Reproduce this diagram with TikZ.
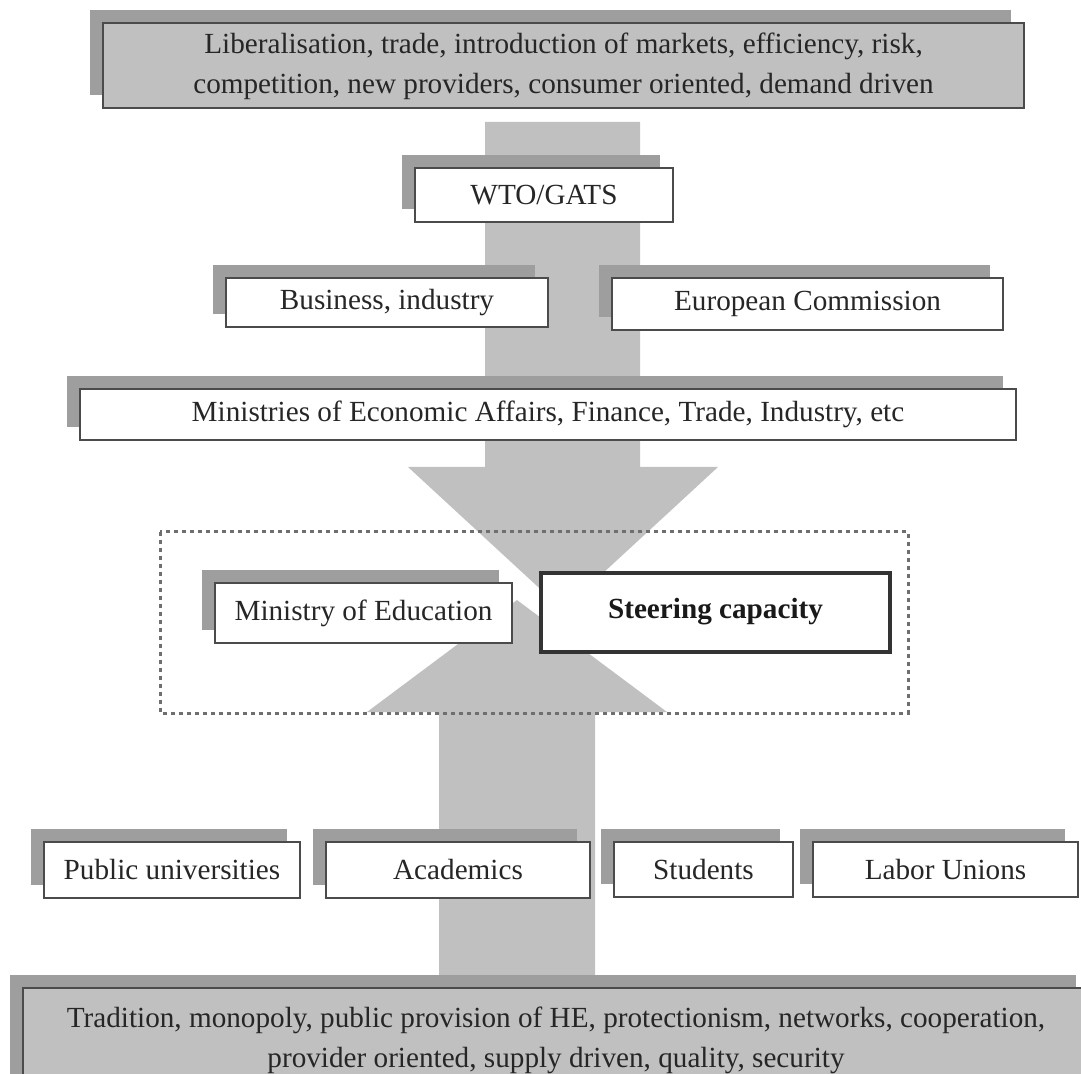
\documentclass[tikz,border=0pt]{standalone}
\usepackage{fontspec}
\setmainfont{Liberation Serif}
\usetikzlibrary{shadows}
\definecolor{boxgray}{RGB}{192,192,192}
\definecolor{shadegray}{RGB}{158,158,158}
\definecolor{edgegray}{RGB}{75,75,75}
\tikzset{
  box/.style={draw=edgegray, line width=1pt, fill=white, align=center, inner sep=0pt,
    text=black!85, font=\fontsize{14.6}{20}\selectfont,
    general shadow={shadow xshift=-6.5pt, shadow yshift=6.5pt, fill=shadegray}},
  greybox/.style={box, fill=boxgray},
  flow/.style={fill=boxgray, draw=none}
}
\begin{document}
\begin{tikzpicture}[x=0.5pt, y=-0.5pt]
\useasboundingbox (0,0) rectangle (1081,1074);
\clip (0,0) rectangle (1081,1074);
% the two big arrows
\fill[flow] (485,122)--(640,122)--(640,467)--(718,467)--(563,610)--(408,467)--(485,467)--cycle;
\fill[flow] (439,975)--(595,975)--(595,712)--(667,712)--(517,600)--(367,712)--(439,712)--cycle;
\draw[edgegray!80, line width=1.5pt, dash pattern=on 2pt off 2pt] (160,532) rectangle (908,713);
% boxes
\node[greybox, minimum width=460.5pt, minimum height=42.5pt] (market) at (563.5,66)
  {Liberalisation, trade, introduction of markets, efficiency, risk,\\ competition, new providers, consumer oriented, demand driven};
\node[box, minimum width=129pt, minimum height=27pt] (wto) at (544,195) {WTO/GATS};
\node[box, minimum width=161pt, minimum height=24.5pt] (business) at (387,302.5) {Business, industry};
\node[box, minimum width=195.5pt, minimum height=26pt] (ec) at (807.5,304) {European Commission};
\node[box, minimum width=468pt, minimum height=25.5pt] (ministries) at (548,414.5)
  {Ministries of Economic Affairs, Finance, Trade, Industry, etc};
\node[box, minimum width=148.5pt, minimum height=30pt] (moe) at (363.5,613) {Ministry of Education};
\node[draw=black!80, line width=2pt, fill=white, inner sep=0pt, text=black!90,
  font=\fontsize{14.6}{20}\selectfont\bfseries, minimum width=174.5pt, minimum height=39.5pt]
  (steering) at (715.5,612) {Steering capacity};
\node[box, minimum width=128pt, minimum height=28pt] (pubuni) at (172,870) {Public universities};
\node[box, minimum width=132pt, minimum height=28pt] (academics) at (458,870) {Academics};
\node[box, minimum width=89.5pt, minimum height=27.5pt] (students) at (703.5,869.5) {Students};
\node[box, minimum width=132.5pt, minimum height=27.5pt] (unions) at (945.5,869.5) {Labor Unions};
\node[greybox, minimum width=533pt, minimum height=52pt] (tradition) at (556,1040)
  {Tradition, monopoly, public provision of HE, protectionism, networks, cooperation,\\ provider oriented, supply driven, quality, security};
\end{tikzpicture}
\end{document}
